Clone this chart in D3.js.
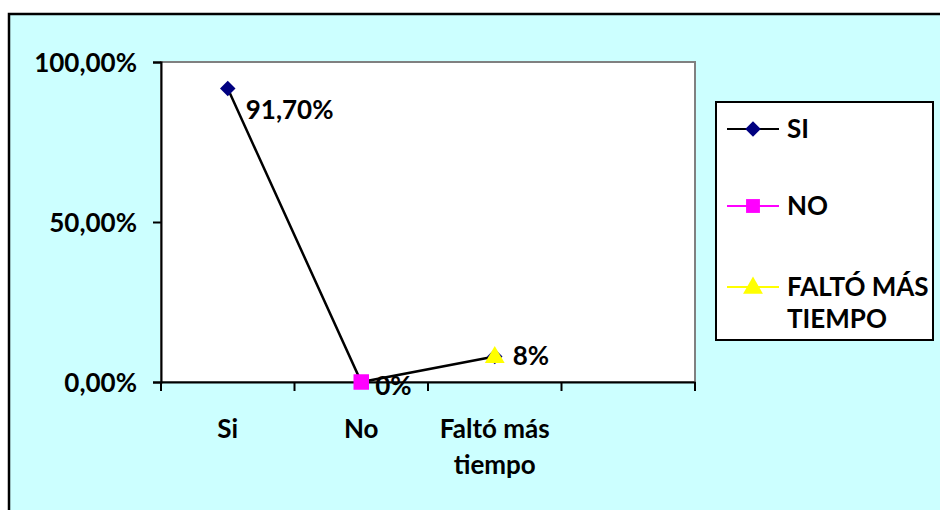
<!DOCTYPE html>
<html><head><meta charset="utf-8">
<script src="https://cdn.jsdelivr.net/npm/d3@7"></script>
<style>body{margin:0;background:#fff}svg{display:block}text{font-family:Lato,"Open Sans",sans-serif;font-weight:bold;fill:#000}</style>
</head><body>
<script>
const categories = ["Si", "No", "Faltó más tiempo", ""];
const values = [0.917, 0, 0.08];
const valueLabels = ["91,70%", "0%", "8%"];
const yTicks = [0, 0.5, 1];
const yTickLabels = ["0,00%", "50,00%", "100,00%"];
const seriesNames = ["SI", "NO", "FALTÓ MÁS TIEMPO"];
const seriesColors = ["#000080", "#FF00FF", "#FFFF00"];
const lineColors = ["#000000", "#FF00FF", "#FFFF00"];

const FS = "26px";
const W = 940, H = 510;
const svg = d3.select("body").append("svg").attr("width", W).attr("height", H);
svg.append("rect").attr("x", 9).attr("y", 14).attr("width", W + 10).attr("height", H + 10)
  .attr("fill", "#CCFFFF").attr("stroke", "#000").attr("stroke-width", 2.5);

const px0 = 161, px1 = 695, py0 = 382, py1 = 62;
const x = d3.scaleBand().domain(categories.map((c, i) => i)).range([px0, px1]);
const y = d3.scaleLinear().domain([0, 1]).range([py0, py1]);

svg.append("rect").attr("x", px0).attr("y", py1).attr("width", px1 - px0).attr("height", py0 - py1)
  .attr("fill", "#fff").attr("stroke", "#808080").attr("stroke-width", 2);

function marker(g, i, cxp, cyp, scale) {
  scale = scale || 1;
  if (i === 0) {
    g.append("path").attr("d", d3.symbol(d3.symbolSquare, 120 * scale)())
      .attr("transform", `translate(${cxp},${cyp}) rotate(45)`).attr("fill", seriesColors[0]);
  } else if (i === 1) {
    g.append("path").attr("d", d3.symbol(d3.symbolSquare, 240 * scale)())
      .attr("transform", `translate(${cxp},${cyp})`).attr("fill", seriesColors[1]);
  } else {
    g.append("path").attr("d", d3.symbol(d3.symbolTriangle, 170 * scale)())
      .attr("transform", `translate(${cxp},${cyp + 1})`).attr("fill", seriesColors[2]);
  }
}

const yAxis = svg.append("g").attr("transform", `translate(${px0},0)`)
  .call(d3.axisLeft(y).tickValues(yTicks).tickFormat((d, i) => yTickLabels[i]).tickSize(8).tickPadding(16));
yAxis.select(".domain").attr("stroke", "#000").attr("stroke-width", 2);
yAxis.selectAll(".tick line").attr("stroke", "#000").attr("stroke-width", 2);
yAxis.selectAll(".tick text").style("font-size", FS).attr("fill", "#000").style("font-family", "Lato,sans-serif").attr("dy", "0.35em");

const xAxis = svg.append("g").attr("transform", `translate(0,${py0})`)
  .call(d3.axisBottom(x).tickSize(0).tickFormat(""));
xAxis.select(".domain").attr("stroke", "#000").attr("stroke-width", 2);
const bounds = [...categories.map((c, i) => x(i)), px1];
xAxis.selectAll(".tk").data(bounds).enter().append("line")
  .attr("x1", d => d).attr("x2", d => d).attr("y1", 0).attr("y2", 9)
  .attr("stroke", "#000").attr("stroke-width", 2);

const xLabelLines = [["Si"], ["No"], ["Faltó más", "tiempo"], [""]];
categories.forEach((c, i) => {
  const t = svg.append("text").attr("text-anchor", "middle").style("font-size", FS)
    .attr("x", x(i) + x.bandwidth() / 2).attr("y", 438);
  xLabelLines[i].forEach((l, j) => t.append("tspan").attr("x", x(i) + x.bandwidth() / 2).attr("dy", j ? 36 : 0).text(l));
});

const cx = i => x(i) + x.bandwidth() / 2;
svg.append("path").datum(values)
  .attr("d", d3.line().x((d, i) => cx(i)).y(d => y(d)))
  .attr("fill", "none").attr("stroke", "#000").attr("stroke-width", 2.5);

marker(svg, 0, cx(2), y(values[2]));
values.forEach((v, i) => marker(svg, i, cx(i), y(v)));

const lblOff = [[18, 30], [14, 13], [18, 9]];
values.forEach((v, i) => {
  svg.append("text").attr("x", cx(i) + lblOff[i][0]).attr("y", y(v) + lblOff[i][1])
    .style("font-size", FS).text(valueLabels[i]);
});

svg.append("rect").attr("x", 716).attr("y", 102).attr("width", 217).attr("height", 238)
  .attr("fill", "#fff").attr("stroke", "#000").attr("stroke-width", 2);
const legY = [129, 206, 287];
const legText = [["SI"], ["NO"], ["FALTÓ MÁS", "TIEMPO"]];
seriesNames.forEach((s, i) => {
  svg.append("line").attr("x1", 727).attr("x2", 779).attr("y1", legY[i]).attr("y2", legY[i])
    .attr("stroke", lineColors[i]).attr("stroke-width", 2);
  marker(svg, i, 753, legY[i], i === 1 ? 0.8 : 1);
  const t = svg.append("text").attr("x", 787).attr("y", legY[i] + 9).style("font-size", FS);
  legText[i].forEach((l, j) => t.append("tspan").attr("x", 787).attr("dy", j ? 32 : 0).text(l));
});
</script>
</body></html>
